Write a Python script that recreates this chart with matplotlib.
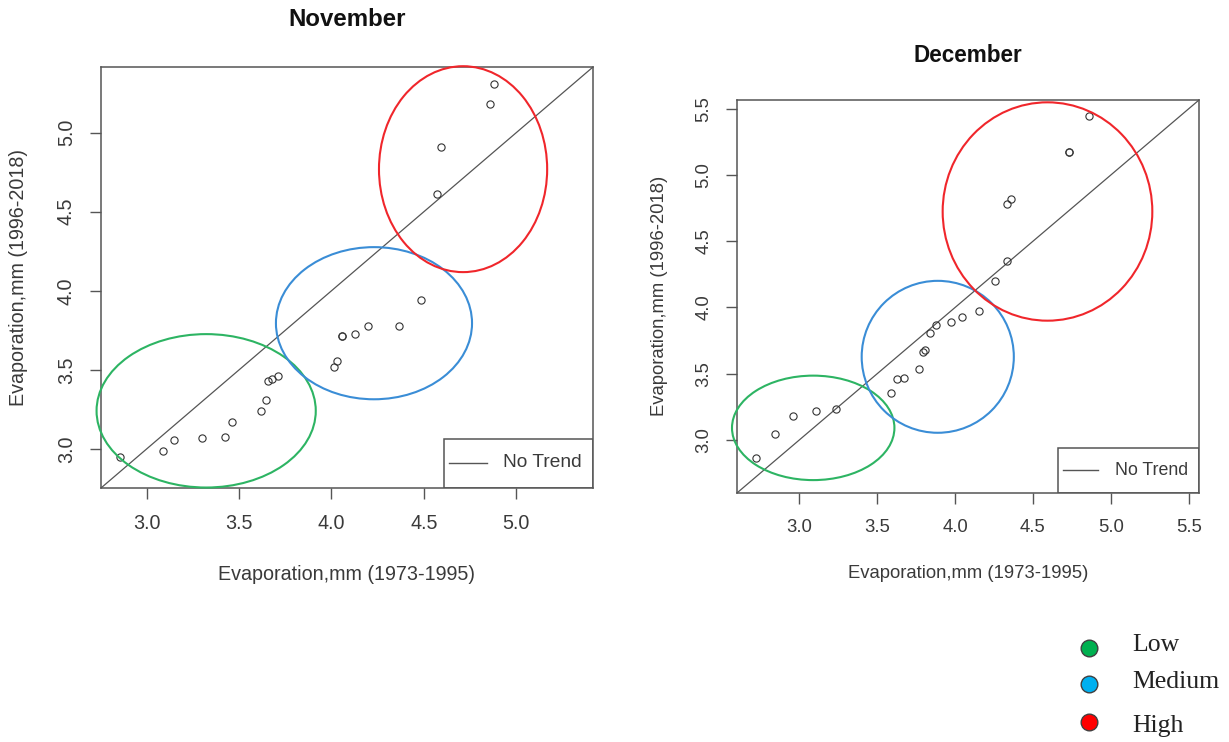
import matplotlib
matplotlib.use("Agg")
import matplotlib.pyplot as plt
from matplotlib.patches import Ellipse, Rectangle
from matplotlib.lines import Line2D

# ---------------- data ----------------
# mean daily evaporation (mm) per calendar day: 1973-1995 vs 1996-2018
nov_x = [2.856, 3.086, 3.148, 3.299, 3.425, 3.461, 3.616, 3.645, 3.654, 3.676,
         3.708, 4.014, 4.032, 4.059, 4.059, 4.128, 4.196, 4.368, 4.483, 4.569,
         4.591, 4.856, 4.877]
nov_y = [2.951, 2.989, 3.057, 3.070, 3.078, 3.173, 3.238, 3.310, 3.430, 3.441,
         3.462, 3.517, 3.557, 3.711, 3.711, 3.728, 3.778, 3.778, 3.939, 4.610,
         4.909, 5.182, 5.310]

dec_x = [2.723, 2.848, 2.963, 3.107, 3.239, 3.589, 3.626, 3.670, 3.769, 3.792,
         3.807, 3.839, 3.878, 3.972, 4.044, 4.155, 4.254, 4.335, 4.335, 4.358,
         4.728, 4.728, 4.862]
dec_y = [2.862, 3.043, 3.184, 3.219, 3.237, 3.353, 3.458, 3.466, 3.536, 3.667,
         3.680, 3.806, 3.866, 3.891, 3.927, 3.974, 4.203, 4.354, 4.780, 4.818,
         5.170, 5.170, 5.447]

# evaporation classes and the outlines grouping them (center x, center y, width, height)
classes = ["Low", "Medium", "High"]
nov_groups = [(3.322, 3.241, 1.186, 0.970),
              (4.230, 3.795, 1.061, 0.962),
              (4.712, 4.769, 0.910, 1.302)]
dec_groups = [(3.090, 3.092, 1.042, 0.788),
              (3.889, 3.628, 0.976, 1.146),
              (4.593, 4.724, 1.345, 1.647)]

nov_lim = (2.753, 5.415)
dec_lim = (2.603, 5.565)
nov_ticks = [3.0, 3.5, 4.0, 4.5, 5.0]
dec_ticks = [3.0, 3.5, 4.0, 4.5, 5.0, 5.5]

xlabel = "Evaporation,mm (1973-1995)"
ylabel = "Evaporation,mm (1996-2018)"

# ---------------- style ----------------
W, H = 1229, 742
plt.rcParams["font.family"] = ["Liberation Sans", "DejaVu Sans"]
TEXT = "#3a3a3a"
FRAME = "#555555"
outline_colors = ["#2DB463", "#3A8DD6", "#F0262B"]
class_colors = ["#00B050", "#00B0F0", "#FF0000"]


def fx(px):
    return px / W


def fy(py):
    return 1 - py / H


fig = plt.figure(figsize=(W / 100, H / 100), dpi=100)


def panel(rect, xs, ys, lim, ticks, groups, title, title_xy, tsize,
          lsize, xlab_xy, ylab_xy, legend_geom):
    ax = fig.add_axes(rect)
    ax.set_xlim(lim)
    ax.set_ylim(lim)
    ax.plot(lim, lim, color="#555555", lw=0.9, zorder=2)
    ax.plot(xs, ys, linestyle="none", marker="o", ms=5.2, mfc="none",
            mec="#333333", mew=0.8, zorder=3)
    for (cx, cy, w, h), col in zip(groups, outline_colors):
        ax.add_patch(Ellipse((cx, cy), w, h, fill=False, ec=col, lw=1.5,
                             clip_on=False, zorder=4))
    ax.set_xticks(ticks)
    ax.set_yticks(ticks)
    ax.set_xticklabels([f"{t:.1f}" for t in ticks])
    ax.set_yticklabels([f"{t:.1f}" for t in ticks], rotation=90, va="center")
    ax.tick_params(length=8, width=1.0, color=FRAME, labelcolor=TEXT,
                   labelsize=tsize)
    ax.tick_params(axis="x", pad=11)
    ax.tick_params(axis="y", pad=10)
    for s in ax.spines.values():
        s.set_color(FRAME)
        s.set_linewidth(1.1)

    # "No Trend" key in the lower right corner
    bx, by, lx0, lx1, ly, tx = legend_geom
    ax.add_patch(Rectangle((bx, 0), 1 - bx, by, transform=ax.transAxes,
                           fill=False, ec=FRAME, lw=1.1, zorder=5))
    ax.add_line(Line2D([lx0, lx1], [ly, ly], transform=ax.transAxes,
                       color="#555555", lw=1.0, zorder=5))
    ax.text(tx, ly, "No Trend", transform=ax.transAxes, ha="left",
            va="center", fontsize=lsize, color=TEXT, zorder=5)

    fig.text(fx(title_xy[0]), fy(title_xy[1]), title, ha="center",
             va="center", fontsize=tsize * 1.22, fontweight="bold",
             color="#111111")
    fig.text(fx(xlab_xy[0]), fy(xlab_xy[1]), xlabel, ha="center",
             va="center", fontsize=tsize, color=TEXT)
    fig.text(fx(ylab_xy[0]), fy(ylab_xy[1]), ylabel, ha="center",
             va="center", rotation=90, fontsize=tsize, color=TEXT)
    return ax


panel([fx(101), fy(488), (593 - 101) / W, (488 - 67) / H],
      nov_x, nov_y, nov_lim, nov_ticks, nov_groups, "November", (347, 20),
      14.2, 13.8, (347, 574), (19, 278),
      (0.697, 0.1164, 0.708, 0.784, 0.0594, 0.817))

panel([fx(737.3), fy(492.7), (1199 - 737.3) / W, (492.7 - 100) / H],
      dec_x, dec_y, dec_lim, dec_ticks, dec_groups, "December", (968, 56),
      13.3, 12.8, (968, 574), (659, 296),
      (0.6946, 0.1146, 0.706, 0.782, 0.0578, 0.818))

# class key in the lower right corner of the figure
key_y = [648, 684, 722]
text_y = [645, 682, 726]
for name, col, my, tyy in zip(classes, class_colors, key_y, text_y):
    fig.add_artist(Line2D([fx(1089)], [fy(my)], marker="o", ms=12,
                          mfc=col, mec="#404040", mew=1.0,
                          transform=fig.transFigure))
    fig.text(fx(1132), fy(tyy), name, ha="left", va="center",
             fontsize=18.5, family=["Liberation Serif", "DejaVu Serif"],
             color="#222222")

fig.savefig("out.png", dpi=100)
